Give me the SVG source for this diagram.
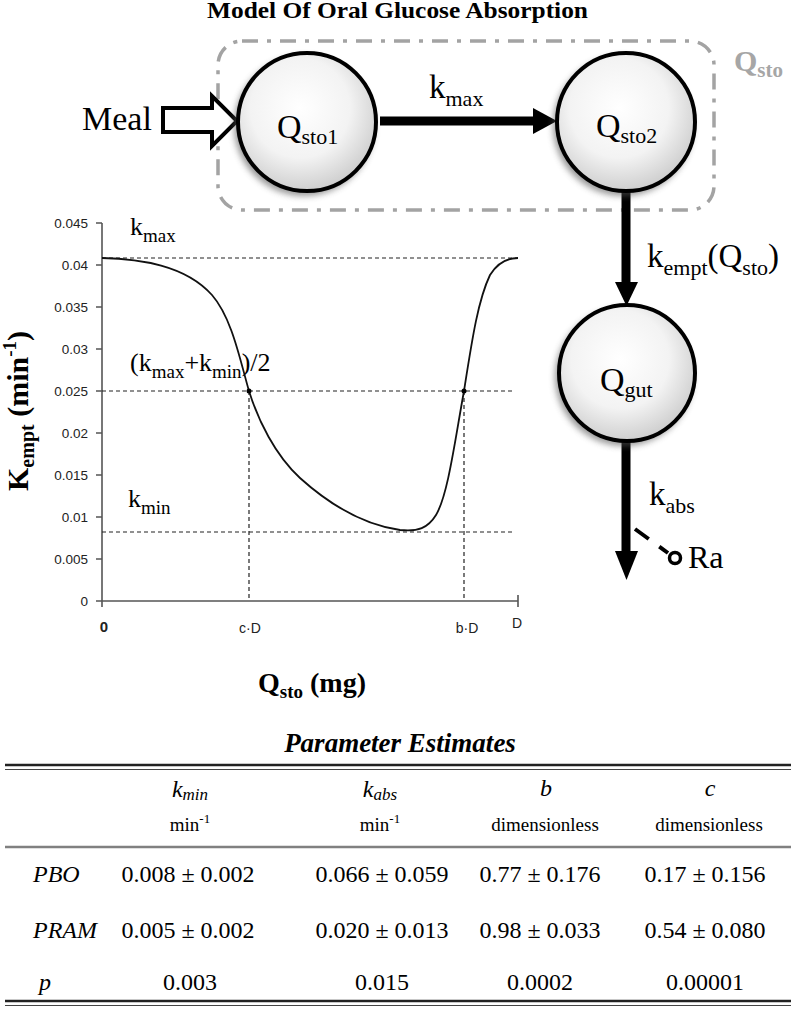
<svg xmlns="http://www.w3.org/2000/svg" width="796" height="1013" viewBox="0 0 796 1013">
<style>
.serif{font-family:"Liberation Serif","Times New Roman",serif;fill:#000}
.sans{font-family:"Liberation Sans",Arial,sans-serif;fill:#222}
.node{fill:url(#ng);stroke:#000;stroke-width:4}
.shadow{fill:#555;filter:url(#blur);opacity:0.6}
.thick{stroke:#000;stroke-width:9;fill:none}
.guide{stroke:#222;stroke-width:1.2;stroke-dasharray:4 3;fill:none}
.axis{stroke:#555;stroke-width:1.6;fill:none}
.tick{font-size:13.5px;text-anchor:end}
.xl{font-size:14px;text-anchor:middle}
.big{font-size:33px}
.lbl{font-size:26px}
.hdr{font-size:24px;font-style:italic;text-anchor:middle}
.unit{font-size:19px;text-anchor:middle}
.val{font-size:24px;text-anchor:middle}
.rowl{font-size:24px;font-style:italic}
</style>
<defs>
<radialGradient id="ng" cx="0.45" cy="0.4" r="0.6">
<stop offset="0" stop-color="#ffffff"/>
<stop offset="0.6" stop-color="#f3f3f3"/>
<stop offset="1" stop-color="#cfcfcf"/>
</radialGradient>
<filter id="blur" x="-20%" y="-20%" width="140%" height="140%"><feGaussianBlur stdDeviation="3"/></filter>
</defs>

<text class="serif" x="207" y="18" font-size="23" font-weight="bold" textLength="381" lengthAdjust="spacingAndGlyphs">Model Of Oral Glucose Absorption</text>

<g id="stomach-group">
<rect x="218" y="41" width="496" height="169" rx="24" ry="24" fill="none" stroke="#a3a3a3" stroke-width="3.5" stroke-dasharray="16 9 4 9"/>
<text class="serif" x="734" y="71" font-size="30" font-weight="bold" style="fill:#a6a6a6">Q<tspan font-size="21" dy="6">sto</tspan></text>
</g>

<g id="connectors">
<polygon points="163,108 212,108 212,96 237,121 212,146 212,132 163,132" fill="#fff" stroke="#000" stroke-width="4" stroke-linejoin="miter"/>
<line class="thick" x1="380" y1="121" x2="537" y2="121"/>
<polygon points="533,108 557,121 533,134" fill="#000"/>
<line class="thick" x1="626" y1="191" x2="626" y2="285"/>
<polygon points="615,282 638,282 626.5,306" fill="#000"/>
<line class="thick" x1="626" y1="440" x2="626" y2="555"/>
<polygon points="615,551 638,551 626.5,580" fill="#000"/>
<line x1="635" y1="529" x2="668" y2="553" stroke="#000" stroke-width="4" stroke-dasharray="17 13"/>
<circle cx="675" cy="558" r="5.5" fill="#fff" stroke="#000" stroke-width="3.5"/>
<text class="serif big" x="429" y="98">k<tspan font-size="22" dy="8">max</tspan></text>
<text class="serif big" x="647" y="267">k<tspan font-size="22" dy="8">empt</tspan><tspan dy="-8">(Q</tspan><tspan font-size="22" dy="8">sto</tspan><tspan dy="-8">)</tspan></text>
<text class="serif big" x="649" y="505">k<tspan font-size="22" dy="8">abs</tspan></text>
</g>

<g id="meal">
<text class="serif" x="82" y="130" font-size="34">Meal</text>
</g>

<g id="Qsto1">
<circle class="shadow" cx="304" cy="126" r="70"/>
<circle class="node" cx="307" cy="122" r="69"/>
<text class="serif" x="277" y="138" font-size="34">Q<tspan font-size="22" dy="6">sto1</tspan></text>
</g>

<g id="Qsto2">
<circle class="shadow" cx="623" cy="126" r="70"/>
<circle class="node" cx="626" cy="122" r="69"/>
<text class="serif" x="596" y="137" font-size="34">Q<tspan font-size="22" dy="6">sto2</tspan></text>
</g>

<g id="Qgut">
<circle class="shadow" cx="624" cy="377" r="69"/>
<circle class="node" cx="627" cy="373" r="68"/>
<text class="serif" x="600" y="391" font-size="34">Q<tspan font-size="22" dy="6">gut</tspan></text>
</g>

<g id="Ra">
<text class="serif" x="688" y="568" font-size="32">Ra</text>
</g>

<g id="plot">
<line class="axis" x1="102" y1="223" x2="102" y2="601"/>
<line class="axis" x1="102" y1="601" x2="518" y2="601"/>
<path class="axis" d="M96,223H102M96,265H102M96,307H102M96,349H102M96,391H102M96,433H102M96,475H102M96,517H102M96,559H102M96,601H102M102,601V607M518,595V607"/>
<g class="sans tick">
<text x="88" y="228">0.045</text>
<text x="88" y="270">0.04</text>
<text x="88" y="312">0.035</text>
<text x="88" y="354">0.03</text>
<text x="88" y="396">0.025</text>
<text x="88" y="438">0.02</text>
<text x="88" y="480">0.015</text>
<text x="88" y="522">0.01</text>
<text x="88" y="564">0.005</text>
<text x="88" y="606">0</text>
</g>
<g class="sans xl">
<text x="104" y="632" font-weight="bold" font-size="15">0</text>
<text x="250" y="633">c·D</text>
<text x="467" y="633">b·D</text>
<text x="517" y="628">D</text>
</g>
<path class="guide" d="M102,258H518M102,391H513M102,532H515M249,391V601M464,391V601"/>
<path d="M102,258 C140,259 185,265 212,295 C232,318 240,360 249,391 C258,420 275,455 300,478 C330,505 365,525 400,530 C418,532 428,528 436,515 C448,495 455,440 464,391 C472,340 478,300 490,275 C498,262 508,258 518,258" fill="none" stroke="#111" stroke-width="1.8"/>
<circle cx="249" cy="391" r="2.5" fill="#000"/>
<circle cx="464" cy="391" r="2.5" fill="#000"/>
<text class="serif lbl" x="130" y="235">k<tspan font-size="19" dy="7">max</tspan></text>
<text class="serif lbl" x="130" y="371">(k<tspan font-size="19" dy="7">max</tspan><tspan dy="-7">+k</tspan><tspan font-size="19" dy="7">min</tspan><tspan dy="-7">)/2</tspan></text>
<text class="serif lbl" x="128" y="507">k<tspan font-size="19" dy="7">min</tspan></text>
<text class="serif" transform="translate(28,411) rotate(-90)" text-anchor="middle" font-size="30" font-weight="bold">K<tspan font-size="20" dy="6">empt</tspan><tspan dy="-6"> (min</tspan><tspan font-size="19" dy="-12">-1</tspan><tspan dy="12">)</tspan></text>
<text class="serif" x="258" y="692" font-size="28" font-weight="bold">Q<tspan font-size="19" dy="6">sto</tspan><tspan dy="-6"> (mg)</tspan></text>
</g>

<g id="table">
<text class="serif" x="400" y="752" font-size="27" font-weight="bold" font-style="italic" text-anchor="middle">Parameter Estimates</text>
<line x1="5" y1="765" x2="791" y2="765" stroke="#222" stroke-width="2.5"/>
<line x1="5" y1="769.5" x2="791" y2="769.5" stroke="#444" stroke-width="1.2"/>
<line x1="5" y1="847" x2="791" y2="847" stroke="#808080" stroke-width="2.5"/>
<line x1="5" y1="1001" x2="791" y2="1001" stroke="#222" stroke-width="2.5"/>
<line x1="5" y1="1005.5" x2="791" y2="1005.5" stroke="#444" stroke-width="1.2"/>
<g class="serif hdr">
<text x="190" y="797">k<tspan font-size="17" dy="3">min</tspan></text>
<text x="380" y="797">k<tspan font-size="17" dy="3">abs</tspan></text>
<text x="546" y="796">b</text>
<text x="710" y="796">c</text>
</g>
<g class="serif unit">
<text x="190" y="831">min<tspan font-size="13" dy="-8">-1</tspan></text>
<text x="380" y="831">min<tspan font-size="13" dy="-8">-1</tspan></text>
<text x="545" y="831">dimensionless</text>
<text x="709" y="831">dimensionless</text>
</g>
<g class="serif rowl">
<text x="33" y="882">PBO</text>
<text x="33" y="938">PRAM</text>
<text x="39" y="990">p</text>
</g>
<g class="serif val">
<text x="188" y="882">0.008 ± 0.002</text>
<text x="382" y="882">0.066 ± 0.059</text>
<text x="540" y="882">0.77 ± 0.176</text>
<text x="705" y="882">0.17 ± 0.156</text>
<text x="188" y="938">0.005 ± 0.002</text>
<text x="382" y="938">0.020 ± 0.013</text>
<text x="540" y="938">0.98 ± 0.033</text>
<text x="705" y="938">0.54 ± 0.080</text>
<text x="190" y="990">0.003</text>
<text x="382" y="990">0.015</text>
<text x="540" y="990">0.0002</text>
<text x="705" y="990">0.00001</text>
</g>
</g>
</svg>
